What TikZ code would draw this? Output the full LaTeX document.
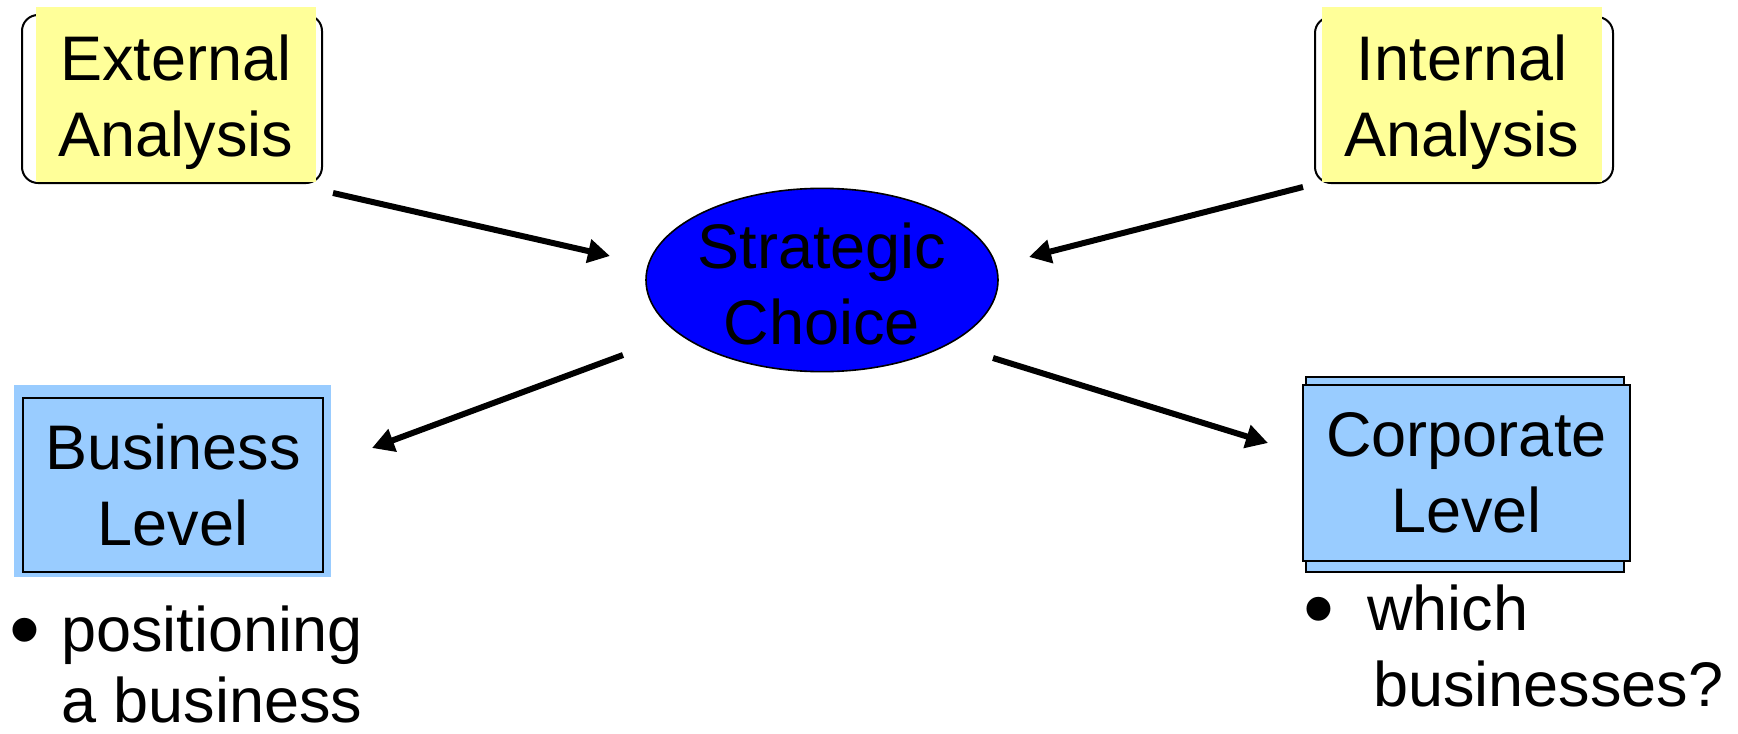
\documentclass[tikz,border=0pt]{standalone}
\usepackage{fontspec}
\setmainfont{Liberation Sans}
\usetikzlibrary{arrows.meta,shapes.geometric}
\definecolor{padyellow}{HTML}{FFFF99}
\definecolor{padblue}{HTML}{99CCFF}
\definecolor{choiceblue}{HTML}{0000FF}
\newcommand{\bigbullet}{\raisebox{-4pt}{\scalebox{1.4}{\textbullet}}}
\tikzset{
  bigtxt/.style={font=\fontsize{31.5}{38}\selectfont, align=center},
  roundframe/.style={draw=black, line width=1pt, rounded corners=8pt, inner sep=0pt, outer sep=0pt},
  yellowpad/.style={fill=padyellow, inner sep=0pt, outer sep=0pt, bigtxt},
  bluepad/.style={fill=padblue, inner sep=0pt, outer sep=0pt},
  bluebox/.style={draw=black, line width=1pt, fill=padblue, inner sep=0pt, outer sep=0pt},
  choice/.style={ellipse, draw=black, line width=0.8pt, fill=choiceblue, inner sep=0pt, outer sep=0pt, bigtxt},
  arr/.style={line width=3pt, -{Triangle[length=11pt,width=11.5pt]}},
  listtxt/.style={font=\fontsize{31.5}{38}\selectfont, inner sep=0pt, outer sep=0pt}
}
\begin{document}
\begin{tikzpicture}[x=0.5pt,y=-0.5pt]
\useasboundingbox (0,0) rectangle (1738,733);
% External analysis
\node[roundframe, minimum width=150pt, minimum height=84pt] (extframe) at (172,99) {};
\node[yellowpad, minimum width=140pt, minimum height=87.5pt] (ext) at (176,94.5) {\rule{0pt}{31pt}External\\Analysis};
% Internal analysis
\node[roundframe, minimum width=149pt, minimum height=83pt] (intframe) at (1464,100) {};
\node[yellowpad, minimum width=140pt, minimum height=87.5pt] (int) at (1462,94.5) {\rule{0pt}{31pt}Internal\\Analysis};
% Strategic choice
\node[choice, minimum width=176pt, minimum height=90pt] (strat) at (822,280) {\rule{0pt}{26.5pt}Strategic\\Choice};
% Business level
\node[bluepad, minimum width=158.5pt, minimum height=96pt] (busbg) at (172.5,481) {};
\node[draw=black, line width=0.8pt, inner sep=0pt, outer sep=0pt, minimum width=150pt, minimum height=87pt, bigtxt] (bus) at (173,485) {Business\\Level};
% Corporate level
\node[bluebox, minimum width=159pt, minimum height=97.5pt] (corpbg) at (1465,474.5) {};
\node[bluebox, minimum width=163.5pt, minimum height=88pt, bigtxt] (corp) at (1466.5,473) {Corporate\\Level};
% Arrows
\draw[arr] ([shift={(11,10)}]extframe.south east) -- ([shift={(-36,-24)}]strat.west);
\draw[arr] ([shift={(-12,4)}]intframe.south west) -- ([shift={(31,-23)}]strat.east);
\draw[arr] ([shift={(-23,75)}]strat.west) -- ([shift={(41,-33)}]busbg.east);
\draw[arr] ([shift={(-5,78)}]strat.east) -- ([shift={(-35,-30)}]corp.west);
% Bullet texts
\node[listtxt, anchor=base west] (buslist) at (10,651)
  {\begin{tabular}[t]{@{}p{25.5pt}@{}l@{}}\bigbullet&positioning\\[-2.5pt]&a business\end{tabular}};
\node[listtxt, anchor=base west] (corplist) at (1303,630)
  {\begin{tabular}[t]{@{}p{32pt}@{}l@{}}\bigbullet&which\\&\hspace{3pt}businesses?\end{tabular}};
\end{tikzpicture}
\end{document}
